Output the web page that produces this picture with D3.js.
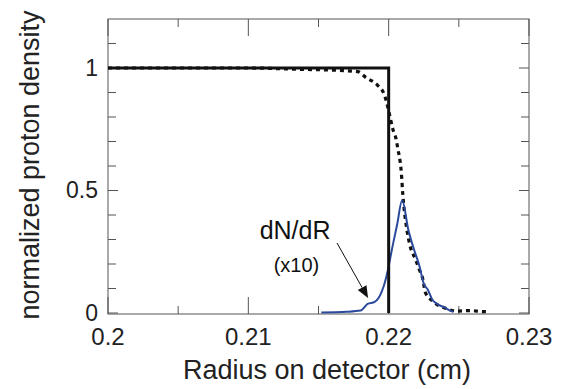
<!DOCTYPE html>
<html>
<head>
<meta charset="utf-8">
<script src="https://cdn.jsdelivr.net/npm/d3@7"></script>
<style>
  body { margin: 0; background: #fff; }
  svg { font-family: "Liberation Sans", Arial, sans-serif; }
</style>
</head>
<body>
<svg id="chart" width="561" height="389"></svg>
<script>
// step profile (solid)
var stepX = [0.2, 0.22, 0.22];
var stepY = [1, 1, 0];

// smeared profile (dotted)
var dotX = [0.2, 0.21, 0.2135, 0.2165, 0.2178, 0.2184, 0.2192, 0.2197, 0.2201, 0.2203, 0.22053, 0.22067,
            0.2208, 0.2209, 0.2210, 0.2213, 0.2215, 0.2219, 0.2222, 0.22245, 0.2226, 0.2231, 0.2240,
            0.2249, 0.2258, 0.2266, 0.2271];
var dotY = [1, 1, 0.995, 0.99, 0.985, 0.96, 0.93, 0.89, 0.80, 0.75, 0.71, 0.665,
            0.625, 0.575, 0.49, 0.34, 0.28, 0.22, 0.175, 0.135, 0.086, 0.05, 0.02,
            0.008, 0.01, 0.006, 0.005];

// dN/dR (x10), blue
var derivX = [0.2152, 0.2170, 0.2180, 0.2185, 0.2190, 0.2195, 0.2198, 0.2200, 0.2202, 0.2206, 0.22096,
              0.2214, 0.2218, 0.2222, 0.2225, 0.2228, 0.2231, 0.2235, 0.2239, 0.2243, 0.2246];
var derivY = [0.002, 0.005, 0.01, 0.037, 0.045, 0.086, 0.14, 0.19, 0.25, 0.36, 0.46,
              0.34, 0.26, 0.19, 0.12, 0.094, 0.055, 0.035, 0.025, 0.012, 0.005];

var xTicks = [0.2, 0.21, 0.22, 0.23];
var xMinor = [0.205, 0.215, 0.225];
var yTicks = [0, 0.5, 1];
var yMinor = [0.1, 0.2, 0.3, 0.4, 0.6, 0.7, 0.8, 0.9, 1.1];

var svg = d3.select("#chart");
var pLeft = 108, pRight = 529, pTop = 19, pBottom = 313;

var x = d3.scaleLinear().domain([0.2, 0.23]).range([pLeft, pRight]);
var y = d3.scaleLinear().domain([0, 1.2]).range([pBottom, pTop]);

var axisColor = "#555";

// frame
svg.append("rect")
    .attr("x", pLeft).attr("y", pTop)
    .attr("width", pRight - pLeft).attr("height", pBottom - pTop + 1)
    .attr("fill", "none").attr("stroke", axisColor).attr("stroke-width", 1);

// x ticks, inward, bottom and top
function xTickLines(vals, len) {
    svg.append("g").selectAll("line").data(vals).enter().append("line")
        .attr("x1", d => x(d)).attr("x2", d => x(d))
        .attr("y1", pBottom + 1).attr("y2", pBottom + 1 - len)
        .attr("stroke", axisColor);
    svg.append("g").selectAll("line").data(vals).enter().append("line")
        .attr("x1", d => x(d)).attr("x2", d => x(d))
        .attr("y1", pTop).attr("y2", pTop + len)
        .attr("stroke", axisColor);
}
xTickLines(xTicks, 17);
xTickLines(xMinor, 8);

function yTickLines(vals, len) {
    svg.append("g").selectAll("line").data(vals).enter().append("line")
        .attr("x1", pLeft).attr("x2", pLeft + len)
        .attr("y1", d => y(d)).attr("y2", d => y(d))
        .attr("stroke", axisColor);
    svg.append("g").selectAll("line").data(vals).enter().append("line")
        .attr("x1", pRight).attr("x2", pRight - len)
        .attr("y1", d => y(d)).attr("y2", d => y(d))
        .attr("stroke", axisColor);
}
yTickLines(yTicks, 10);
yTickLines(yMinor, 8);

// tick labels
svg.append("g").selectAll("text").data(xTicks).enter().append("text")
    .attr("x", d => x(d)).attr("y", 345)
    .attr("text-anchor", "middle")
    .attr("font-size", "24px").attr("fill", "#222")
    .text(d => d3.format("")(d));

svg.append("g").selectAll("text").data(yTicks).enter().append("text")
    .attr("x", 98).attr("y", d => y(d))
    .attr("dy", "0.33em")
    .attr("text-anchor", "end")
    .attr("font-size", "23px").attr("fill", "#222")
    .text(d => d);

// axis titles
svg.append("text")
    .attr("x", 327).attr("y", 379)
    .attr("text-anchor", "middle")
    .attr("font-size", "27px").attr("fill", "#222")
    .text("Radius on detector (cm)");

svg.append("text")
    .attr("transform", "translate(39,165) rotate(-90)")
    .attr("text-anchor", "middle")
    .attr("font-size", "27px").attr("fill", "#222")
    .text("normalized proton density");

// curves
var line = d3.line().x(d => x(d[0])).y(d => y(d[1]));
var smooth = d3.line().x(d => x(d[0])).y(d => y(d[1])).curve(d3.curveMonotoneX);

svg.append("path")
    .datum(d3.zip(dotX, dotY))
    .attr("d", smooth)
    .attr("fill", "none").attr("stroke", "#111")
    .attr("stroke-width", 3.2)
    .attr("stroke-dasharray", "4,4");

svg.append("path")
    .datum(d3.zip(derivX, derivY))
    .attr("d", smooth)
    .attr("fill", "none").attr("stroke", "#2b4a9c")
    .attr("stroke-width", 2);

svg.append("path")
    .datum(d3.zip(stepX, stepY))
    .attr("d", line)
    .attr("fill", "none").attr("stroke", "#111")
    .attr("stroke-width", 3);

// annotation
svg.append("text")
    .attr("x", x(0.21333)).attr("y", y(0.302))
    .attr("text-anchor", "middle")
    .attr("font-size", "25px").attr("fill", "#111")
    .text("dN/dR");
svg.append("text")
    .attr("x", x(0.21343)).attr("y", y(0.167))
    .attr("text-anchor", "middle")
    .attr("font-size", "20px").attr("fill", "#111")
    .text("(x10)");

var a0 = [x(0.21632), y(0.2857)], a1 = [x(0.21853), y(0.061)];
var ang = Math.atan2(a1[1] - a0[1], a1[0] - a0[0]);
var hl = 12, hw = 5;
var bx = a1[0] - hl * Math.cos(ang), by = a1[1] - hl * Math.sin(ang);
svg.append("line")
    .attr("x1", a0[0]).attr("y1", a0[1]).attr("x2", bx).attr("y2", by)
    .attr("stroke", "#111").attr("stroke-width", 1);
svg.append("path")
    .attr("d", "M" + a1[0] + "," + a1[1] +
        "L" + (bx + hw * Math.sin(ang)) + "," + (by - hw * Math.cos(ang)) +
        "L" + (bx - hw * Math.sin(ang)) + "," + (by + hw * Math.cos(ang)) + "Z")
    .attr("fill", "#111");
</script>
</body>
</html>
